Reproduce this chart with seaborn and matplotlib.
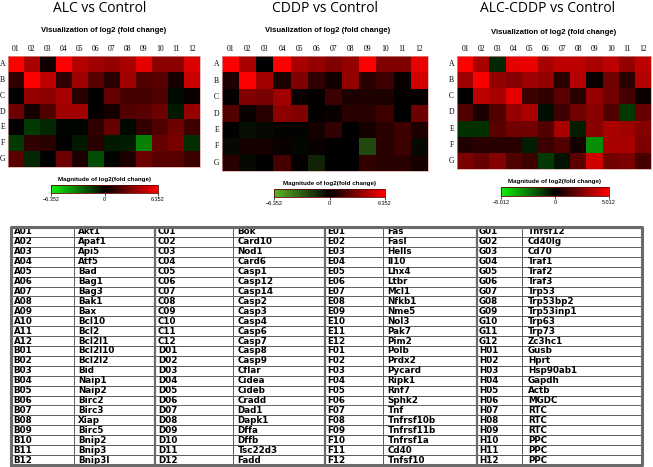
import numpy as np
import pandas as pd
import matplotlib
matplotlib.use("Agg")
import matplotlib.pyplot as plt
import seaborn as sns
from matplotlib.colors import LinearSegmentedColormap

# plate layout
row_labels = ["A", "B", "C", "D", "E", "F", "G"]
col_labels = ["01", "02", "03", "04", "05", "06", "07", "08", "09", "10", "11", "12"]

# log2 fold change
alc_vals = [
    [6.3, 4.2, 0.4, 6.3, 4.5, 4.0, 3.7, 4.2, 5.7, 3.5, 3.5, 5.5],
    [1.2, 6.3, 4.7, 1.2, 4.0, 2.2, 1.0, 4.0, 2.0, 2.2, 0.6, 5.0],
    [0.0, 3.7, 3.5, 4.2, 1.0, 0.1, 2.5, 1.7, 1.7, 2.0, -0.3, 0.2],
    [2.7, 0.5, 2.0, 4.0, 4.0, 0.1, 0.5, 2.0, 2.2, 2.7, -0.6, 3.7],
    [0.0, -1.5, -1.0, -0.1, -0.1, 1.2, 2.5, -0.2, 1.2, 2.0, 2.7, 1.5],
    [-1.5, 1.2, 1.0, 0.0, -0.6, 1.0, -0.6, -0.7, -3.4, 2.5, 3.0, -1.2],
    [2.2, -1.0, 0.0, 2.7, 0.7, -2.0, -0.1, 0.7, 2.7, 2.2, 2.2, 1.5],
]
cddp_vals = [
    [6.3, 4.2, 0.0, 6.3, 4.2, 3.7, 3.2, 3.7, 6.3, 3.2, 3.2, 5.8],
    [0.7, 6.3, 4.0, 0.7, 3.2, 1.2, 0.4, 3.7, 1.0, 1.5, 0.2, 5.2],
    [0.1, 3.2, 3.0, 4.0, 0.2, 0.1, 1.5, 0.7, 0.7, 0.7, 0.1, 0.1],
    [2.0, 0.2, 1.0, 3.5, 3.2, 0.1, 0.2, 1.0, 1.0, 1.5, 0.0, 2.7],
    [0.0, -0.5, -0.3, -0.1, -0.1, 0.5, 1.2, 0.0, 0.5, 1.0, 1.5, 0.7],
    [-0.3, 0.5, 0.5, 0.2, -0.2, 0.2, 0.0, 0.0, -2.5, 1.0, 1.5, -0.3],
    [1.0, -0.3, 0.0, 1.7, 0.1, -1.2, 0.0, 0.0, 1.2, 1.0, 1.0, 0.5],
]
combo_vals = [
    [5.0, 3.3, -0.8, 4.5, 4.6, 3.3, 3.7, 3.7, 3.3, 3.7, 2.9, 3.7],
    [3.1, 4.9, 2.9, 2.6, 3.1, 2.9, 0.8, 3.5, 0.2, 2.2, 0.8, 3.5],
    [0.1, 3.7, 3.3, 4.5, 1.2, 1.0, 1.8, 0.8, 2.9, 2.2, 1.4, 0.2],
    [1.6, 0.6, 1.6, 2.9, 3.3, -0.3, 1.2, 2.2, 2.7, 1.6, -1.2, 2.0],
    [-1.0, -1.0, 1.8, 2.2, 2.2, 1.6, 3.3, -0.6, 2.7, 3.3, 3.1, 2.6],
    [0.6, 0.8, 0.8, 0.8, -0.6, 1.2, 1.6, 0.4, -2.9, 3.3, 3.3, 2.4],
    [2.4, 2.0, 2.6, 1.6, 1.2, -1.2, -0.4, 1.8, 4.1, 2.2, 2.4, 1.4],
]

titles = ["ALC vs Control", "CDDP vs Control", "ALC-CDDP vs Control"]
limits = [6.352, 6.352, 5.012]

# gene list per plate row
genes_A = ["Akt1", "Apaf1", "Api5", "Atf5", "Bad", "Bag1", "Bag3", "Bak1", "Bax", "Bcl10", "Bcl2", "Bcl2l1"]
genes_B = ["Bcl2l10", "Bcl2l2", "Bid", "Naip1", "Naip2", "Birc2", "Birc3", "Xiap", "Birc5", "Bnip2", "Bnip3", "Bnip3l"]
genes_C = ["Bok", "Card10", "Nod1", "Card6", "Casp1", "Casp12", "Casp14", "Casp2", "Casp3", "Casp4", "Casp6", "Casp7"]
genes_D = ["Casp8", "Casp9", "Cflar", "Cidea", "Cideb", "Cradd", "Dad1", "Dapk1", "Dffa", "Dffb", "Tsc22d3", "Fadd"]
genes_E = ["Fas", "Fasl", "Hells", "Il10", "Lhx4", "Ltbr", "Mcl1", "Nfkb1", "Nme5", "Nol3", "Pak7", "Pim2"]
genes_F = ["Polb", "Prdx2", "Pycard", "Ripk1", "Rnf7", "Sphk2", "Tnf", "Tnfrsf10b", "Tnfrsf11b", "Tnfrsf1a", "Cd40", "Tnfsf10"]
genes_G = ["Tnfsf12", "Cd40lg", "Cd70", "Traf1", "Traf2", "Traf3", "Trp53", "Trp53bp2", "Trp53inp1", "Trp63", "Trp73", "Zc3hc1"]
genes_H = ["Gusb", "Hprt", "Hsp90ab1", "Gapdh", "Actb", "MGDC", "RTC", "RTC", "RTC", "PPC", "PPC", "PPC"]

W, H = 653, 467


def rect(x0, y0, x1, y1):
    # pixel box (top-left origin) -> figure fraction
    return [x0 / W, 1 - y1 / H, (x1 - x0) / W, (y1 - y0) / H]


fig = plt.figure(figsize=(W / 100, H / 100), dpi=100)

heat_boxes = [(8, 56, 200, 167), (222, 56, 428, 171), (457, 56, 651, 169)]
cbar_boxes = [(51, 185, 158, 193), (274, 189, 385, 197), (501, 187, 609, 196)]
title_pos = [(100, 8), (325, 8), (548, 8)]
sub_pos = [(104, 31), (328, 31), (554, 32)]
greens = [(0.05, 0.95, 0.05), (0.35, 0.72, 0.15), (0.05, 0.95, 0.05)]

for i, vals in enumerate([alc_vals, cddp_vals, combo_vals]):
    df = pd.DataFrame(vals, index=row_labels, columns=col_labels)
    v = limits[i]
    cmap = LinearSegmentedColormap.from_list("gbr", [greens[i], (0, 0, 0), (1, 0, 0)])
    ax = fig.add_axes(rect(*heat_boxes[i]))
    cax = fig.add_axes(rect(*cbar_boxes[i]))
    sns.heatmap(df, ax=ax, cmap=cmap, vmin=-v, vmax=v, cbar_ax=cax,
                xticklabels=col_labels, yticklabels=row_labels,
                cbar_kws={"orientation": "horizontal"})
    ax.xaxis.tick_top()
    ax.tick_params(length=0, pad=2, labelsize=5.5)
    for lab in ax.get_xticklabels() + ax.get_yticklabels():
        lab.set_family("Liberation Serif")
        lab.set_rotation(0)
    for s in ax.spines.values():
        s.set_visible(True)
        s.set_linewidth(0.5)
        s.set_color("#d8a0a0")

    cax.set_xticks([-v, 0, v])
    cax.set_xticklabels([f"\u2212{v:.3f}", "0", f"{v:.3f}"], fontsize=4, family="Liberation Sans")
    cax.tick_params(length=2, width=0.5, pad=1)
    cax.set_title("Magnitude of log2(fold change)", fontsize=4.5, fontweight="bold",
                  family="Liberation Sans", pad=3)
    cb = ax.collections[0].colorbar
    cb.outline.set_linewidth(0.6)
    cb.outline.set_edgecolor("#600000")

    fig.text(title_pos[i][0] / W, 1 - title_pos[i][1] / H, titles[i], ha="center", va="center",
             fontsize=10, family="Open Sans")
    fig.text(sub_pos[i][0] / W, 1 - sub_pos[i][1] / H, "Visualization of log2 (fold change)",
             ha="center", va="center", fontsize=5.6, fontweight="bold", family="Liberation Sans")

# gene table
groups = [("A", genes_A, "B", genes_B), ("C", genes_C, "D", genes_D),
          ("E", genes_E, "F", genes_F), ("G", genes_G, "H", genes_H)]
cell_text = []
for half in range(2):
    for k in range(12):
        row = []
        for g in groups:
            letter = g[0] if half == 0 else g[2]
            names = g[1] if half == 0 else g[3]
            row += [f"{letter}{k + 1:02d}", names[k]]
        cell_text.append(row)

col_px = [63, 81, 78, 92, 58, 94, 45, 120]
tax = fig.add_axes(rect(11, 227, 642, 465))
tax.axis("off")
tbl = tax.table(cellText=cell_text, colWidths=[c / sum(col_px) for c in col_px],
                cellLoc="left", bbox=[0, 0, 1, 1])
tbl.auto_set_font_size(False)
tbl.set_fontsize(6.3)
for (r, c), cell in tbl.get_celld().items():
    cell.PAD = 0.04 if c % 2 == 0 else 0.05
    cell.set_linewidth(0.6)
    cell.set_edgecolor("#505050")
    cell.get_text().set_fontweight("bold")
    cell.get_text().set_family("DejaVu Sans")

# heavier frame and group separators
xs = np.cumsum(col_px) / sum(col_px)
for xb in xs[1:-1:2]:
    tax.axvline(xb, color="#6a6a6a", lw=1.6)
tax.plot([0, 1, 1, 0, 0], [0, 0, 1, 1, 0], color="#6a6a6a", lw=2.2, clip_on=False)
tax.set_xlim(0, 1)
tax.set_ylim(0, 1)

fig.savefig("out.png", dpi=100)
